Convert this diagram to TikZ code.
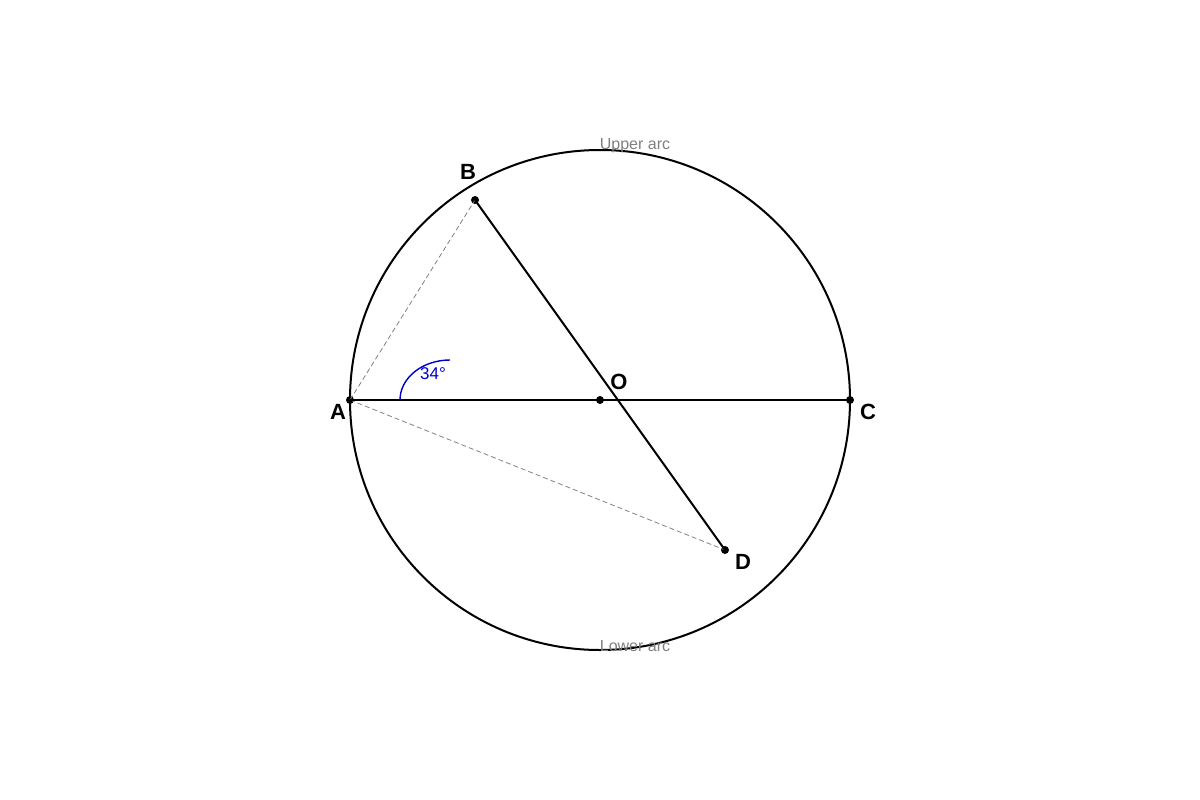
\documentclass[tikz,border=0pt]{standalone}
\usepackage{fontspec}
\setmainfont{Liberation Sans}
\usetikzlibrary{positioning}
\tikzset{
	dot/.style={
		circle,
		fill=black,
		inner sep=0pt,
		minimum size=8pt,
	},
	ptlabel/.style={
		font=\fontsize{22}{22}\selectfont\bfseries,
		inner sep=0pt,
	},
	arclabel/.style={
		font=\fontsize{16}{16}\selectfont,
		text=black!50,
		inner sep=0pt,
	},
	chord/.style={
		line width=2pt,
		draw=black,
	},
	guide/.style={
		dash pattern=on 5pt off 3pt,
		line width=0.8pt,
		draw=black!50,
	},
}

\begin{document}
\begin{tikzpicture}[x=1pt,y=-1pt]
		\useasboundingbox (0,0) rectangle (1200,800);
		\node [dot] (O) at (600,400) {};
		\node [dot] (A) at (350,400) {};
		\node [dot] (C) at (850,400) {};
		\node [dot] (B) at (475,200) {};
		\node [dot] (D) at (725,550) {};
		\draw[chord] (O.center) circle (250);
		
		\draw[guide] (A.center) -- (B.center);
		\draw[guide] (A.center) -- (D.center);
		\draw[chord] (A.center) -- (C.center);
		\draw[chord] (B.center) -- (D.center);
		
		\draw[blue!80!black,line width=1.4pt] (A.center) ++(50,0) arc[start angle=180,end angle=270,x radius=50,y radius=40];
		\node [font=\fontsize{17}{17}\selectfont,text=blue!80!black,inner sep=0pt] (angle) at (433,374) {34°};
		
		\node [ptlabel] (lblA) at (338,412) {A};
		\node [ptlabel] (lblB) at (468,172) {B};
		\node [ptlabel] (lblC) at (868,412) {C};
		\node [ptlabel] (lblD) at (743,562) {D};
		\node [ptlabel] (lblO) at (619,382) {O};
		
		\node [arclabel] (upper) at (635,146) {Upper arc};
		\node [arclabel] (lower) at (635,646) {Lower arc};
	\end{tikzpicture}
\end{document}
